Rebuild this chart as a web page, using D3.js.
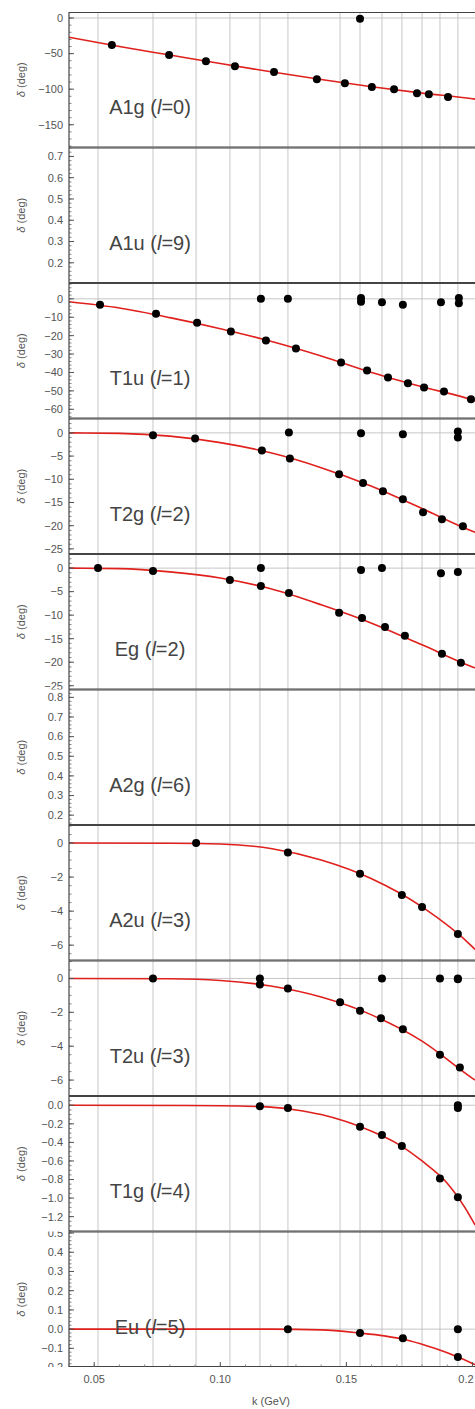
<!DOCTYPE html>
<html>
<head>
<meta charset="utf-8">
<script src="https://cdn.jsdelivr.net/npm/d3@7"></script>
<style>
  body { margin: 0; background: #fff; }
  text { font-family: Arial, "Liberation Sans", sans-serif; }
</style>
</head>
<body>
<div id="chart"></div>
<script>
// free levels (vertical grid), x axis ticks
const kLevels = [0.0515, 0.0733, 0.0904, 0.1038, 0.1157, 0.1268, 0.1475, 0.1554, 0.1641, 0.1720, 0.1800, 0.1871, 0.1942];
const xTicks = [0.05, 0.10, 0.15, 0.20];
const xTickLabels = ["0.05", "0.10", "0.15", "0.2"];
const xDomain = [0.04, 0.201];

// panels
const panelNames = ["A1g", "A1u", "T1u", "T2g", "Eg", "A2g", "A2u", "T2u", "T1g", "Eu"];
const panelL = [0, 9, 1, 2, 2, 6, 3, 3, 4, 5];
const yDomains = [[-182, 8.5], [0.105, 0.742], [-65, 8.6], [-26.1, 3.1], [-25.8, 3], [0.15, 0.84], [-6.9, 1.06], [-6.94, 1.06], [-1.36, 0.1], [-0.197, 0.508]];
const yTicks = [
  [0, -50, -100, -150],
  [0.2, 0.3, 0.4, 0.5, 0.6, 0.7],
  [0, -10, -20, -30, -40, -50, -60],
  [0, -5, -10, -15, -20, -25],
  [0, -5, -10, -15, -20, -25],
  [0.2, 0.3, 0.4, 0.5, 0.6, 0.7, 0.8],
  [0, -2, -4, -6],
  [0, -2, -4, -6],
  [0, -0.2, -0.4, -0.6, -0.8, -1.0, -1.2],
  [-0.2, -0.1, 0, 0.1, 0.2, 0.3, 0.4, 0.5]
];
const yTickDecimals = [0, 1, 0, 0, 0, 1, 0, 0, 1, 1];
const yMinorSteps = [10, 0.02, 2, 1, 1, 0.02, 0.5, 0.5, 0.05, 0.02];

// lattice points (k, delta)
const a1gPoints = [[0.0570, -38], [0.0797, -52], [0.0943, -60.6], [0.1058, -67.6], [0.1213, -76], [0.1383, -86], [0.1494, -91.5], [0.1554, -1], [0.1601, -97], [0.1689, -100], [0.1780, -105.6], [0.1827, -107], [0.1903, -111]];
const a1uPoints = [];
const t1uPoints = [[0.0523, -3.2], [0.0745, -8.1], [0.0908, -13], [0.1042, -17.8], [0.1181, -22.7], [0.1300, -27], [0.1479, -34.6], [0.1582, -38.9], [0.1665, -42.7], [0.1744, -45.9], [0.1808, -48.1], [0.1887, -50.3], [0.1994, -54.6],
  [0.1161, 0], [0.1268, 0], [0.1558, 0.4], [0.1558, -1.6], [0.1641, -1.8], [0.1724, -3.2], [0.1875, -1.8], [0.1946, 0.4], [0.1946, -2.4]];
const t2gPoints = [[0.0733, -0.5], [0.0900, -1.2], [0.1165, -3.8], [0.1276, -5.5], [0.1471, -8.9], [0.1566, -10.8], [0.1645, -12.6], [0.1724, -14.3], [0.1804, -17.1], [0.1879, -18.6], [0.1962, -20.1],
  [0.1272, 0.1], [0.1558, -0.1], [0.1724, -0.3], [0.1942, 0.3], [0.1942, -1.0]];
const egPoints = [[0.0515, 0], [0.0733, -0.6], [0.1038, -2.5], [0.1161, 0], [0.1161, -3.8], [0.1272, -5.3], [0.1471, -9.5], [0.1562, -10.6], [0.1558, -0.4], [0.1641, 0], [0.1653, -12.5], [0.1732, -14.4], [0.1875, -1.1], [0.1879, -18.2], [0.1942, -0.8], [0.1954, -20.1]];
const a2gPoints = [];
const a2uPoints = [[0.0904, 0], [0.1268, -0.55], [0.1554, -1.8], [0.1720, -3.05], [0.1800, -3.75], [0.1942, -5.35]];
const t2uPoints = [[0.0733, 0], [0.1157, 0], [0.1157, -0.35], [0.1268, -0.6], [0.1475, -1.4], [0.1554, -1.9], [0.1637, -2.35], [0.1641, 0], [0.1724, -3.0], [0.1871, 0], [0.1871, -4.5], [0.1942, 0], [0.1942, -0.05], [0.1950, -5.25]];
const t1gPoints = [[0.1157, -0.01], [0.1268, -0.03], [0.1554, -0.23], [0.1641, -0.32], [0.1720, -0.44], [0.1871, -0.79], [0.1942, -0.99], [0.1942, 0], [0.1942, -0.03]];
const euPoints = [[0.1268, 0], [0.1554, -0.02], [0.1724, -0.047], [0.1942, 0], [0.1942, -0.145]];

// fitted curves (k, delta)
const a1gFit = [[0.04, -27], [0.06, -40], [0.08, -52], [0.10, -64], [0.12, -75.5], [0.14, -86.5], [0.16, -96.5], [0.18, -105.5], [0.20, -113.5], [0.201, -114]];
const t1uFit = [[0.04, -1.6], [0.06, -5.0], [0.08, -10.2], [0.10, -16.2], [0.12, -23], [0.14, -31], [0.16, -40], [0.18, -47.8], [0.20, -55], [0.201, -55.5]];
const t2gFit = [[0.04, 0], [0.06, -0.1], [0.08, -0.7], [0.10, -2.1], [0.12, -4.3], [0.14, -7.5], [0.16, -11.5], [0.18, -16.3], [0.20, -21.2], [0.201, -21.4]];
const egFit = [[0.04, 0], [0.06, -0.1], [0.08, -0.8], [0.10, -2.1], [0.12, -4.4], [0.14, -7.8], [0.16, -11.7], [0.18, -16.3], [0.20, -21], [0.201, -21.2]];
const a2uFit = [[0.04, 0], [0.08, -0.01], [0.10, -0.06], [0.12, -0.32], [0.14, -1.0], [0.16, -2.1], [0.18, -3.75], [0.20, -6.1], [0.201, -6.25]];
const t2uFit = [[0.04, 0], [0.08, -0.02], [0.10, -0.12], [0.12, -0.45], [0.14, -1.1], [0.16, -2.15], [0.18, -3.7], [0.20, -5.9], [0.201, -6.0]];
const t1gFit = [[0.04, 0], [0.10, -0.005], [0.12, -0.02], [0.13, -0.05], [0.14, -0.1], [0.16, -0.28], [0.17, -0.41], [0.18, -0.6], [0.19, -0.84], [0.20, -1.24], [0.201, -1.29]];
const euFit = [[0.04, 0], [0.12, 0], [0.14, -0.004], [0.155, -0.02], [0.165, -0.035], [0.175, -0.06], [0.185, -0.1], [0.1942, -0.145], [0.201, -0.185]];

const panelPoints = [a1gPoints, a1uPoints, t1uPoints, t2gPoints, egPoints, a2gPoints, a2uPoints, t2uPoints, t1gPoints, euPoints];
const panelFits = [a1gFit, null, t1uFit, t2gFit, egFit, null, a2uFit, t2uFit, t1gFit, euFit];

const W = 475, H = 1409;
const left = 69, right = 475;
const top0 = 12, panelH = 135.5;

const svg = d3.select("#chart").append("svg")
  .attr("width", W).attr("height", H);

const x = d3.scaleLinear().domain(xDomain).range([left, right]);

const minus = s => s.replace(/-/g, "\u2212");

panelNames.forEach((name, i) => {
  const top = top0 + i * panelH;
  const bottom = top + panelH;
  const y = d3.scaleLinear().domain(yDomains[i]).range([bottom, top]);

  const clipId = "clip" + i;
  svg.append("clipPath").attr("id", clipId)
    .append("rect").attr("x", left).attr("y", top).attr("width", right - left).attr("height", panelH);
  const lclipId = "lclip" + i;
  svg.append("clipPath").attr("id", lclipId)
    .append("rect").attr("x", 0).attr("y", top).attr("width", W).attr("height", panelH);

  const g = svg.append("g").attr("clip-path", `url(#${clipId})`);

  // vertical grid at free levels
  g.selectAll(".vgrid")
    .data(kLevels)
    .enter().append("line")
    .attr("x1", d => x(d)).attr("x2", d => x(d))
    .attr("y1", top).attr("y2", bottom)
    .style("stroke", "#dcdcdc")
    .style("stroke-width", 1.6);

  // zero line
  const [y0, y1] = yDomains[i];
  if (y0 < 0 && y1 > 0) {
    g.append("line")
      .attr("x1", left).attr("x2", right)
      .attr("y1", y(0)).attr("y2", y(0))
      .style("stroke", "#b8b8b8")
      .style("stroke-width", 0.8);
  }

  // fit curve
  if (panelFits[i]) {
    const line = d3.line()
      .x(d => x(d[0]))
      .y(d => y(d[1]))
      .curve(d3.curveMonotoneX);
    g.append("path")
      .attr("d", line(panelFits[i]))
      .style("fill", "none")
      .style("stroke", "#e0201c")
      .style("stroke-width", 1.6);
  }

  // points
  g.selectAll(".dot")
    .data(panelPoints[i])
    .enter().append("circle")
    .attr("cx", d => x(d[0]))
    .attr("cy", d => y(d[1]))
    .attr("r", 4)
    .style("fill", "#000");

  // left axis with ticks pointing inward
  const minor = d3.range(Math.ceil(y0 / yMinorSteps[i]), Math.floor(y1 / yMinorSteps[i]) + 1)
    .map(n => n * yMinorSteps[i]);
  const ax = svg.append("g").attr("clip-path", `url(#${lclipId})`);
  ax.selectAll(".minor")
    .data(minor)
    .enter().append("line")
    .attr("x1", left).attr("x2", left + 2.5)
    .attr("y1", d => y(d)).attr("y2", d => y(d))
    .style("stroke", "#666").style("stroke-width", 0.8);
  ax.selectAll(".major")
    .data(yTicks[i])
    .enter().append("line")
    .attr("x1", left).attr("x2", left + 5)
    .attr("y1", d => y(d)).attr("y2", d => y(d))
    .style("stroke", "#555").style("stroke-width", 1);
  ax.selectAll(".tlabel")
    .data(yTicks[i])
    .enter().append("text")
    .attr("x", left - 6)
    .attr("y", d => y(d))
    .attr("dy", "0.35em")
    .attr("text-anchor", "end")
    .style("font-size", "11px")
    .style("fill", "#555")
    .text(d => minus(d3.format("." + yTickDecimals[i] + "f")(d)));

  svg.append("line")
    .attr("x1", left).attr("x2", left)
    .attr("y1", top).attr("y2", bottom)
    .style("stroke", "#444").style("stroke-width", 1.2);

  // frame top / bottom
  svg.append("line")
    .attr("x1", left).attr("x2", right)
    .attr("y1", top + 0.5).attr("y2", top + 0.5)
    .style("stroke", "#444").style("stroke-width", 1.2);
  svg.append("line")
    .attr("x1", left).attr("x2", right)
    .attr("y1", bottom - 0.5).attr("y2", bottom - 0.5)
    .style("stroke", "#444").style("stroke-width", 1.2);

  // y axis title
  const ty = svg.append("text")
    .attr("transform", `translate(25,${top + panelH / 2}) rotate(-90)`)
    .attr("text-anchor", "middle")
    .style("font-size", "11px")
    .style("fill", "#555");
  ty.append("tspan").style("font-style", "italic").text("\u03b4");
  ty.append("tspan").text(" (deg)");

  // panel label
  const lab = svg.append("text")
    .attr("x", 150)
    .attr("y", top + 102)
    .attr("text-anchor", "middle")
    .style("font-size", "20px")
    .style("fill", "#444");
  lab.append("tspan").text(name + " (");
  lab.append("tspan").style("font-style", "italic").text("l");
  lab.append("tspan").text("=" + panelL[i] + ")");
});

// bottom axis ticks and labels
const axisY = top0 + panelNames.length * panelH;
const minorK = d3.range(4, 21).map(n => n / 100);
svg.selectAll(".kminor")
  .data(minorK)
  .enter().append("line")
  .attr("x1", d => x(d)).attr("x2", d => x(d))
  .attr("y1", axisY).attr("y2", axisY - 2.5)
  .style("stroke", "#666").style("stroke-width", 0.8);
svg.selectAll(".kmajor")
  .data(xTicks)
  .enter().append("line")
  .attr("x1", d => x(d)).attr("x2", d => x(d))
  .attr("y1", axisY).attr("y2", axisY - 5)
  .style("stroke", "#555").style("stroke-width", 1);
svg.selectAll(".klabel")
  .data(xTicks)
  .enter().append("text")
  .attr("x", d => Math.min(x(d), W - 9))
  .attr("y", axisY + 16)
  .attr("text-anchor", "middle")
  .style("font-size", "11px")
  .style("fill", "#555")
  .text((d, i) => xTickLabels[i]);

svg.append("text")
  .attr("x", 271)
  .attr("y", axisY + 38)
  .attr("text-anchor", "middle")
  .style("font-size", "11px")
  .style("fill", "#555")
  .text("k (GeV)");
</script>
</body>
</html>
